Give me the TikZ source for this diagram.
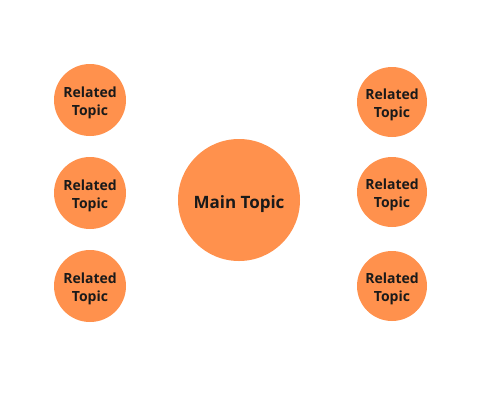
\documentclass[tikz,border=0pt]{standalone}
\usepackage{fontspec}
\setmainfont{Open Sans}
\definecolor{topicorange}{HTML}{FF914D}
\definecolor{topictext}{HTML}{1A1A1A}
\newcommand{\lowered}[2]{\raisebox{-#1}[\height][\depth]{#2}}
\newcommand{\twolines}[2]{\lowered{2.5pt}{\begin{tabular}{@{}c@{}}#1\\#2\end{tabular}}}
\tikzset{
  maintopic/.style={circle, fill=topicorange, minimum size=122pt, inner sep=0pt,
    font=\fontsize{17}{20}\selectfont\bfseries, text=topictext},
  relatedtopic/.style={circle, fill=topicorange, minimum size=72pt, inner sep=0pt,
    font=\fontsize{14}{18}\selectfont\bfseries, text=topictext}
}
\begin{document}
\begin{tikzpicture}[x=1pt,y=-1pt]
\useasboundingbox (0,0) rectangle (479,400);
\node[maintopic] (main) at (239,200) {\lowered{4pt}{Main Topic}};
\node[relatedtopic] (l1) at (90,100) {\twolines{Related}{Topic}};
\node[relatedtopic] (l2) at (90,193) {\twolines{Related}{Topic}};
\node[relatedtopic] (l3) at (90,286) {\twolines{Related}{Topic}};
\node[relatedtopic, minimum size=70pt] (r1) at (392,102) {\twolines{Related}{Topic}};
\node[relatedtopic, minimum size=70pt] (r2) at (392,192) {\twolines{Related}{Topic}};
\node[relatedtopic, minimum size=70pt] (r3) at (392,286) {\twolines{Related}{Topic}};
\end{tikzpicture}
\end{document}
